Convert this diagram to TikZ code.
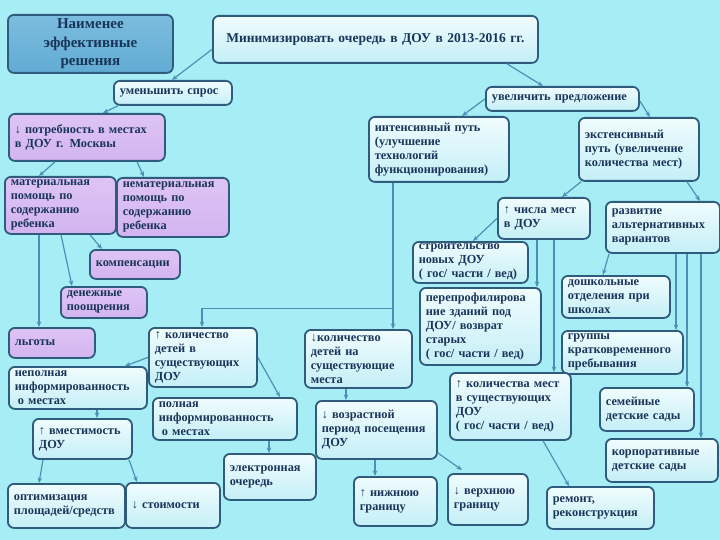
\documentclass[tikz,border=0pt]{standalone}
\usepackage{fontspec}
\setmainfont{Liberation Serif}
\usetikzlibrary{arrows.meta}
\definecolor{bgc}{HTML}{A6EDF5}
\definecolor{bord}{HTML}{2F5C7C}
\definecolor{lfA}{HTML}{F0FCFE}
\definecolor{lfB}{HTML}{C4EFF7}
\definecolor{lavA}{HTML}{DEC4F5}
\definecolor{lavB}{HTML}{D3B4F0}
\definecolor{ttA}{HTML}{7CBDDF}
\definecolor{ttB}{HTML}{62ABD3}
\definecolor{txt}{HTML}{1A355A}
\definecolor{arrc}{HTML}{4C91B5}
\tikzset{
  box/.style={draw=bord, line width=1.8pt, rounded corners=6pt, top color=lfA, bottom color=lfB,
    text=txt, font=\bfseries\fontsize{12.3}{14}\selectfont, align=left, anchor=north west,
    inner xsep=6pt, inner ysep=1pt},
  lav/.style={top color=lavA, bottom color=lavB},
  ttl/.style={top color=ttA, bottom color=ttB, align=center, font=\bfseries\fontsize{15}{18.5}\selectfont},
  ctr/.style={align=center},
  arr/.style={draw=arrc, line width=1.2pt, -{Stealth[length=5.5pt,width=4.5pt]}}
}
\newcommand\bx[7]{\pgfmathsetlengthmacro\bxtw{#4-12}%
  \node[box,#6,minimum width=#4pt,minimum height=#5pt,text width=\bxtw] (#1) at (#2,#3) {#7};}
\begin{document}
\begin{tikzpicture}[x=1pt,y=-1pt]
\fill[bgc] (0,0) rectangle (720,540);
\useasboundingbox (0,0) rectangle (720,540);

\bx{t1}{7}{14}{165}{58}{ttl}{Наименее\\эффективные\\решения}
\bx{t2}{212}{15}{325}{47}{ctr,font=\bfseries\fontsize{13.5}{16}\selectfont}{Минимизировать очередь в ДОУ в 2013-2016 гг.}
\bx{umen}{113}{80}{118}{24}{}{уменьшить спрос}
\bx{uvel}{485}{86}{153}{24}{}{увеличить предложение}
\bx{pot}{8}{113}{156}{47}{lav}{↓ потребность в местах\\ в ДОУ г. Москвы}
\bx{int}{368}{116}{140}{65}{}{интенсивный путь\\(улучшение\\технологий\\функционирования)}
\bx{ext}{578}{117}{120}{63}{}{экстенсивный\\путь (увеличение\\количества мест)}
\bx{mat}{4}{176}{111}{57}{lav}{материальная\\помощь по\\содержанию\\ребенка}
\bx{nemat}{116}{177}{112}{59}{lav}{нематериальная\\помощь по\\содержанию\\ребенка}
\bx{komp}{89}{249}{90}{29}{lav}{компенсации}
\bx{den}{60}{286}{86}{31}{lav}{денежные\\поощрения}
\bx{chisla}{497}{197}{92}{41}{}{↑ числа мест\\в ДОУ}
\bx{razv}{605}{201}{114}{51}{}{развитие\\альтернативных\\вариантов}
\bx{stroi}{412}{241}{115}{41}{}{строительство\\новых ДОУ\\( гос/ части / вед)}
\bx{pereprof}{419}{287}{121}{77}{}{перепрофилирова\\ние зданий под\\ДОУ/ возврат\\старых\\( гос/ части / вед)}
\bx{dosh}{561}{275}{108}{42}{}{дошкольные\\отделения при\\школах}
\bx{lgoty}{8}{327}{86}{30}{lav}{льготы}
\bx{kolup}{148}{327}{108}{59}{}{↑ количество\\детей в\\существующих\\ДОУ}
\bx{koldown}{304}{329}{107}{58}{}{↓количество\\детей на\\существующие\\места}
\bx{nepol}{8}{366}{138}{42}{}{неполная\\информированность\\\hspace*{3pt}о местах}
\bx{grup}{561}{330}{121}{43}{}{группы\\кратковременного\\пребывания}
\bx{kolmest}{449}{372}{121}{67}{}{↑ количества мест\\в существующих\\ДОУ\\( гос/ части / вед)}
\bx{poln}{152}{397}{144}{42}{}{полная\\информированность\\\hspace*{3pt}о местах}
\bx{vmest}{32}{418}{99}{40}{}{↑ вместимость\\ДОУ}
\bx{vozr}{315}{400}{121}{58}{}{↓ возрастной\\период посещения\\ДОУ}
\bx{sem}{599}{387}{94}{43}{}{семейные\\детские сады}
\bx{korp}{605}{438}{112}{43}{}{корпоративные\\детские сады}
\bx{elektr}{223}{453}{92}{46}{}{электронная\\очередь}
\bx{optim}{7}{483}{117}{44}{}{оптимизация\\площадей/средств}
\bx{stoim}{125}{482}{94}{45}{}{↓ стоимости}
\bx{nizh}{353}{476}{83}{49}{}{↑ нижнюю\\границу}
\bx{verkh}{447}{473}{80}{51}{}{↓ верхнюю\\границу}
\bx{remont}{546}{486}{107}{42}{}{ремонт,\\реконструкция}

% connectors
\draw[arr] ([yshift=-10pt]t2.west) -- ([xshift=59pt]umen.north west);
\draw[arr] ([xshift=295pt]t2.south west) -- ([xshift=58pt]uvel.north west);
\draw[arr] ([xshift=5pt]umen.south west) -- ([xshift=95pt]pot.north west);
\draw[arr] (uvel.west) -- ([xshift=94pt]int.north west);
\draw[arr] ([yshift=-2pt]uvel.east) -- ([xshift=72pt]ext.north west);
\draw[arr] ([xshift=47pt]pot.south west) -- ([xshift=35pt]mat.north west);
\draw[arr] ([xshift=129pt]pot.south west) -- ([xshift=28pt]nemat.north west);
\draw[arr] ([xshift=86pt]mat.south west) -- ([xshift=13pt]komp.north west);
\draw[arr] ([xshift=57pt]mat.south west) -- ([xshift=12pt]den.north west);
\draw[arr] ([xshift=35pt]mat.south west) -- ([xshift=31pt]lgoty.north west);
\draw[arr] ([xshift=25pt]int.south west) -- ([xshift=89pt]koldown.north west);
\draw[arr] ([xshift=25pt,yshift=-126pt]int.south west) -| ([xshift=54pt]kolup.north west);
\draw[arr] (chisla.west) -- ([xshift=61pt]stroi.north west);
\draw[arr] ([xshift=40pt]chisla.south west) -- ([xshift=118pt]pereprof.north west);
\draw[arr] ([xshift=57pt]chisla.south west) -- ([xshift=105pt]kolmest.north west);
\draw[arr] ([xshift=3pt]ext.south west) -- ([xshift=65pt]chisla.north west);
\draw[arr] ([xshift=109pt]ext.south west) -- ([xshift=95pt]razv.north west);
\draw[arr] ([xshift=4pt]razv.south west) -- ([xshift=42pt]dosh.north west);
\draw[arr] ([xshift=71pt]razv.south west) -- ([xshift=115pt]grup.north west);
\draw[arr] ([xshift=82pt]razv.south west) -- ([xshift=88pt]sem.north west);
\draw[arr] ([xshift=96pt]razv.south west) -- ([xshift=96pt]korp.north west);
\draw[arr] (kolup.west) -- ([xshift=117pt]nepol.north west);
\draw[arr] (kolup.east) -- ([xshift=128pt]poln.north west);
\draw[arr] ([xshift=89pt]nepol.south west) -- ([xshift=65pt]vmest.north west);
\draw[arr] ([xshift=11pt]vmest.south west) -- ([xshift=32pt]optim.north west);
\draw[arr] ([xshift=97pt]vmest.south west) -- ([xshift=12pt]stoim.north west);
\draw[arr] ([xshift=117pt]poln.south west) -- ([xshift=46pt]elektr.north west);
\draw[arr] ([xshift=42pt]koldown.south west) -- ([xshift=31pt]vozr.north west);
\draw[arr] ([xshift=60pt]vozr.south west) -- ([xshift=22pt]nizh.north west);
\draw[arr] ([yshift=-23pt]vozr.east) -- ([xshift=15pt,yshift=3pt]verkh.north west);
\draw[arr] ([xshift=94pt]kolmest.south west) -- ([xshift=23pt]remont.north west);
\end{tikzpicture}
\end{document}
